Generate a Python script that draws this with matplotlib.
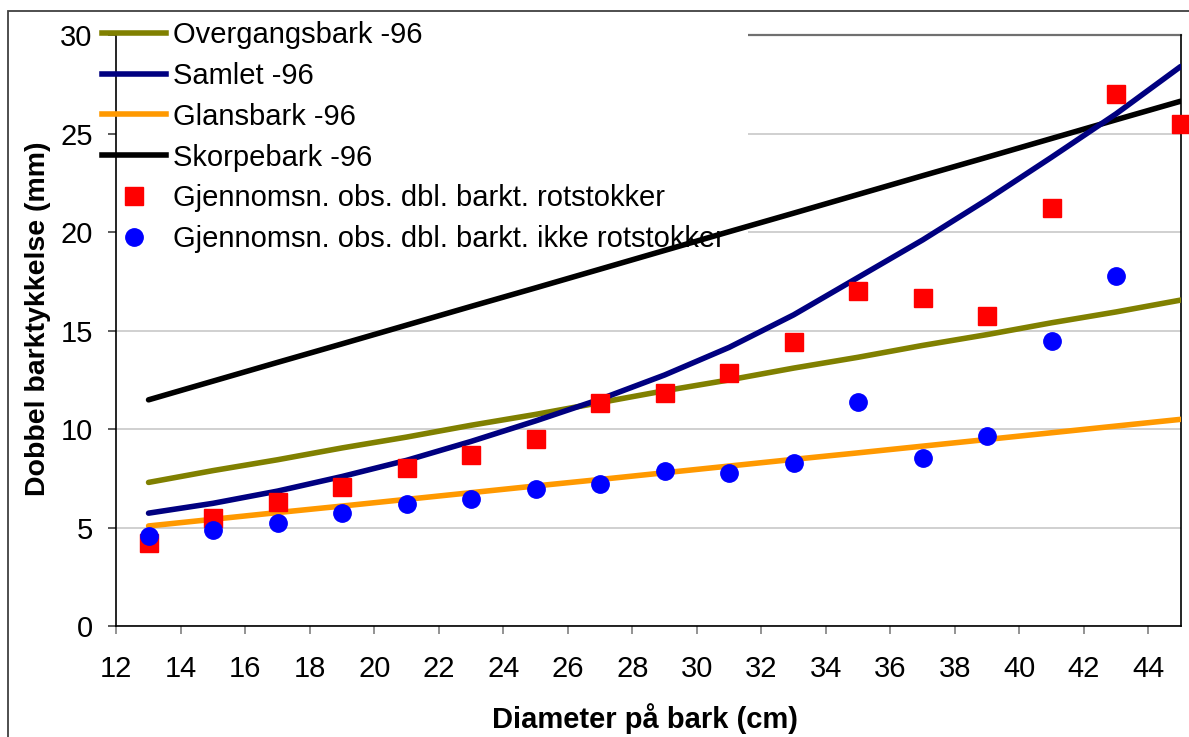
import matplotlib

matplotlib.use("Agg")

import matplotlib.pyplot as plt
from matplotlib.lines import Line2D
from matplotlib.patches import Rectangle


# diameters (cm) of the class midpoints
diam = [13, 15, 17, 19, 21, 23, 25, 27, 29, 31, 33, 35, 37, 39, 41, 43, 45]

# fitted curves at each diameter
overgang = [7.3, 7.9, 8.45, 9.05, 9.6, 10.2, 10.75, 11.35, 11.95, 12.5, 13.1,
            13.65, 14.25, 14.8, 15.4, 15.95, 16.55]
samlet = [5.74, 6.24, 6.86, 7.6, 8.42, 9.38, 10.42, 11.52, 12.75, 14.15, 15.8,
          17.7, 19.6, 21.65, 23.8, 26.0, 28.4]
glans = [5.09, 5.43, 5.77, 6.1, 6.44, 6.78, 7.12, 7.45, 7.79, 8.13, 8.47,
         8.8, 9.14, 9.48, 9.82, 10.16, 10.5]
skorpe = [11.49, 12.44, 13.39, 14.33, 15.28, 16.23, 17.17, 18.12, 19.07, 20.02,
          20.96, 21.91, 22.86, 23.8, 24.75, 25.7, 26.64]

# observed mean double bark thickness
obs_rot = [4.21, 5.48, 6.33, 7.09, 8.02, 8.70, 9.49, 11.35, 11.86, 12.84, 14.43,
           17.02, 16.67, 15.75, 21.2, 27.0, 25.5]
diam_ikke = [13, 15, 17, 19, 21, 23, 25, 27, 29, 31, 33, 35, 37, 39, 41, 43]
obs_ikke = [4.60, 4.89, 5.26, 5.77, 6.19, 6.45, 6.95, 7.21, 7.88, 7.78, 8.31,
            11.39, 8.54, 9.66, 14.5, 17.75]

labels = [
    "Overgangsbark -96",
    "Samlet -96",
    "Glansbark -96",
    "Skorpebark -96",
    "Gjennomsn. obs. dbl. barkt. rotstokker",
    "Gjennomsn. obs. dbl. barkt. ikke rotstokker",
]

plt.rcParams.update({
    "font.family": ["Liberation Sans", "DejaVu Sans"],
    "font.size": 21,
})

W, H = 1189, 737
fig = plt.figure(figsize=(W / 100, H / 100), dpi=100)
ax = fig.add_axes([116.3 / W, 1 - 626.3 / H, (1180.6 - 116.3) / W, (626.3 - 35) / H])

# outer chart frame (cropped on right and bottom)
fig.add_artist(Rectangle((8 / W, -0.05), 1.2, 1 - 11 / H + 0.05, transform=fig.transFigure,
                         fill=False, edgecolor="#404040", linewidth=1.3))

lw = 4.0
ax.plot(diam, skorpe, color="black", lw=lw, zorder=4, solid_capstyle="round")
ax.plot(diam, glans, color="#FF9900", lw=lw, zorder=4, solid_capstyle="round")
ax.plot(diam, overgang, color="#808000", lw=lw, zorder=4, solid_capstyle="round")
ax.plot(diam, samlet, color="#000080", lw=lw, zorder=4.2, solid_capstyle="round",
        solid_joinstyle="round")
ax.plot(diam, obs_rot, ls="none", marker="s", ms=12.3, color="#FF0000", zorder=5, clip_on=False)
ax.plot(diam_ikke, obs_ikke, ls="none", marker="o", ms=12.5, color="#0000FF", zorder=5.2, clip_on=False)

ax.set_xlim(12, 45)
ax.set_ylim(0, 30)
ax.set_xticks(range(12, 45, 2))
ax.set_yticks(range(0, 31, 5))
ax.set_axisbelow(True)
ax.yaxis.grid(True, color="#C8C8C8", lw=1.2)

for s in ("left", "bottom", "right"):
    ax.spines[s].set_color("black")
    ax.spines[s].set_linewidth(1.2)
ax.spines["top"].set_color("#707070")
ax.spines["top"].set_linewidth(1.6)
ax.spines["top"].set_zorder(0.9)

ax.tick_params(axis="y", direction="out", length=6, width=1.2, color="#404040", pad=11, labelsize=21)
ax.tick_params(axis="x", direction="out", length=6, width=1.2, color="#808080", pad=15, labelsize=21)

ax.set_xlabel("Diameter på bark (cm)", fontweight="bold", fontsize=21)
ax.xaxis.set_label_coords(0.497, -0.13)
ax.set_ylabel("Dobbel barktykkelse (mm)", fontweight="bold", fontsize=20.5)
ax.yaxis.set_label_coords(-0.061, 0.52)

# white area behind the legend, hides gridlines and the top border
ax.add_patch(Rectangle((0, (626.3 - 255) / 591.3), (748 - 116.3) / 1064.3, 1.01,
                       transform=ax.transAxes, facecolor="white", edgecolor="none",
                       zorder=1, clip_on=False))

handles = [
    Line2D([], [], color="#808000", lw=lw),
    Line2D([], [], color="#000080", lw=lw),
    Line2D([], [], color="#FF9900", lw=lw),
    Line2D([], [], color="black", lw=lw),
    Line2D([], [], ls="none", marker="s", ms=12.3, color="#FF0000"),
    Line2D([], [], ls="none", marker="o", ms=12.5, color="#0000FF"),
]
leg = ax.legend(handles, labels, loc="upper left", bbox_to_anchor=(102 / W, 1 - 21 / H),
                bbox_transform=fig.transFigure, frameon=False, borderpad=0, borderaxespad=0,
                handlelength=2.19, handletextpad=0.24, labelspacing=0.44, fontsize=21,
                numpoints=1)
leg.set_zorder(3)

fig.savefig("out.png", dpi=100)
